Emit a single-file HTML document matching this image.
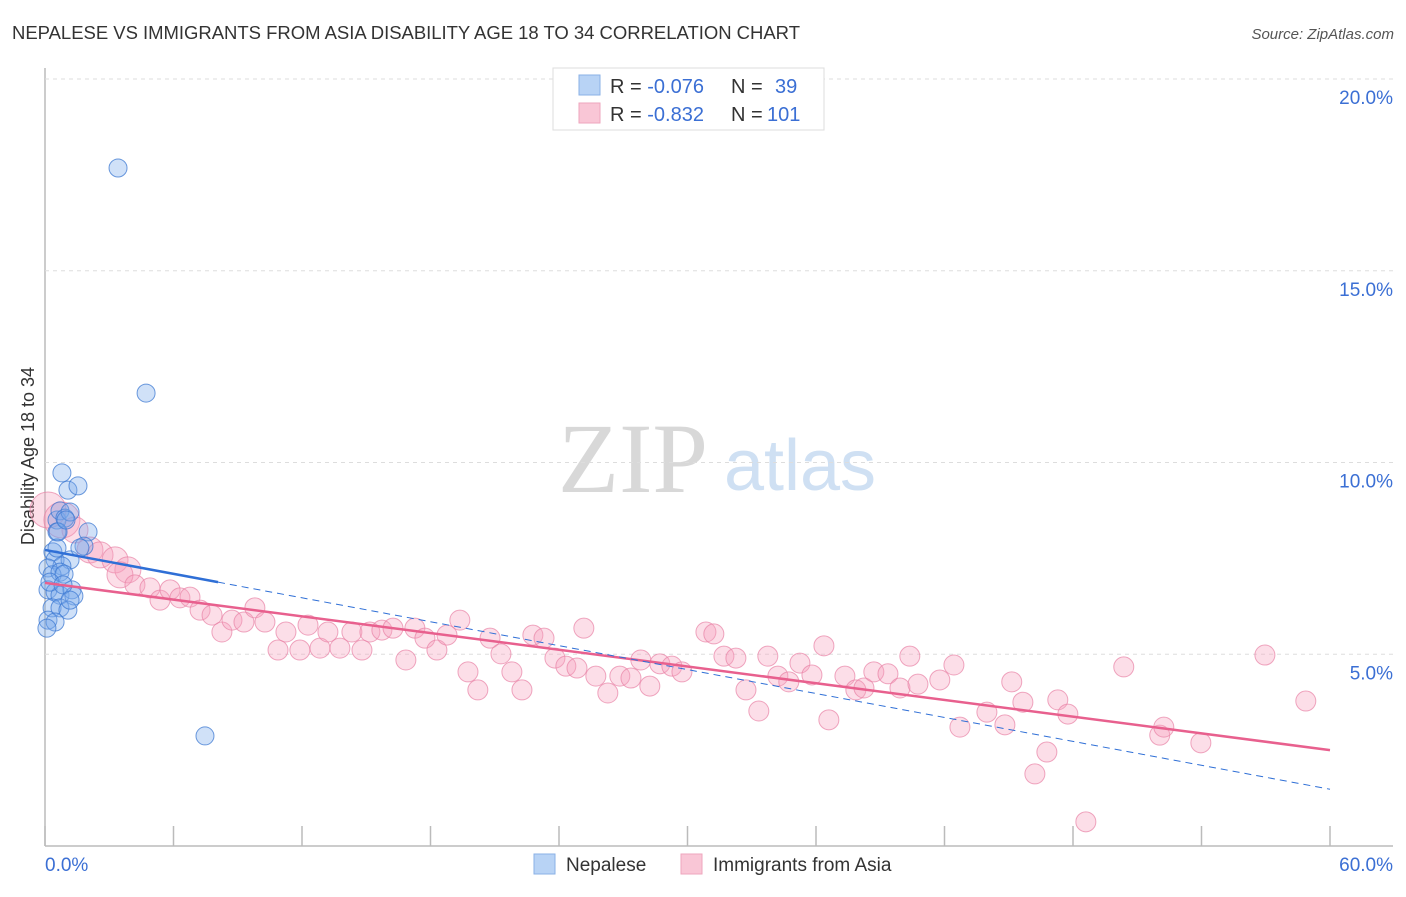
<!DOCTYPE html>
<html><head><meta charset="utf-8"><style>
body{margin:0;background:#fff;font-family:"Liberation Sans",sans-serif}
svg text{font-family:"Liberation Sans",sans-serif}
svg text.serif{font-family:"Liberation Serif",serif}
</style></head><body>
<svg id="c" width="1406" height="892">
<text x="12" y="39" font-size="18.5" fill="#333" textLength="788">NEPALESE VS IMMIGRANTS FROM ASIA DISABILITY AGE 18 TO 34 CORRELATION CHART</text>
<text x="1394" y="39" font-size="15" fill="#555" font-style="italic" text-anchor="end">Source: ZipAtlas.com</text>
<text class="serif" x="633" y="492" font-size="100" fill="#d8d8d8" text-anchor="middle">ZIP</text>
<text x="800" y="490" font-size="72" fill="#cfe0f3" text-anchor="middle">atlas</text>
<text transform="translate(34,456) rotate(-90)" font-size="18" fill="#333" text-anchor="middle">Disability Age 18 to 34</text>
<g id="grid"></g><g id="pts"></g><g id="lines"></g>
<g>
<rect x="553" y="68" width="271" height="62" fill="#fff" stroke="#ddd"/>
<rect x="579" y="75" width="21" height="20" fill="#b8d3f5" stroke="#8ab0e6"/>
<rect x="579" y="103" width="21" height="20" fill="#f9c6d6" stroke="#eea6bd"/>
<text x="610" y="93" font-size="20" fill="#333">R = <tspan fill="#3b6fd4">-0.076</tspan><tspan x="731">N = </tspan><tspan x="775" fill="#3b6fd4">39</tspan></text>
<text x="610" y="121" font-size="20" fill="#333">R = <tspan fill="#3b6fd4">-0.832</tspan><tspan x="731">N = </tspan><tspan x="767" fill="#3b6fd4">101</tspan></text>
</g>
<g>
<rect x="534" y="854" width="21" height="20" fill="#b8d3f5" stroke="#8ab0e6"/>
<text x="566" y="871" font-size="19" fill="#333">Nepalese</text>
<rect x="681" y="854" width="21" height="20" fill="#f9c6d6" stroke="#eea6bd"/>
<text x="713" y="871" font-size="19" fill="#333">Immigrants from Asia</text>
</g>
</svg>
<script>
const yTicks=[5,10,15,20];
const xTickLabels=["0.0%","60.0%"];
const blueX=[3.41,4.72,0.79,1.07,1.54,0.56,0.70,0.93,1.17,2.01,0.56,1.82,0.37,0.47,1.17,0.79,0.14,0.33,0.70,0.89,0.14,0.47,0.70,1.26,1.35,0.33,0.70,1.07,0.14,0.47,0.09,7.47,0.61,0.98,0.23,0.84,0.56,1.17,1.63];
const blueY=[17.68,11.81,9.73,9.28,9.39,8.50,8.74,8.55,8.71,8.19,8.19,7.82,7.67,7.46,7.46,7.30,7.25,7.07,7.14,7.09,6.68,6.62,6.54,6.68,6.52,6.21,6.21,6.15,5.89,5.84,5.68,2.87,8.19,8.50,6.88,6.81,7.77,6.41,7.77];
const pinkX=[0.14,0.79,1.40,2.10,2.57,3.27,3.87,3.50,4.20,4.90,5.37,5.84,6.30,6.77,7.24,7.80,8.26,8.73,9.29,9.80,10.27,10.88,11.25,11.90,12.28,12.84,13.21,13.77,14.33,14.80,15.17,15.73,16.25,16.85,17.27,17.74,18.30,18.77,19.37,19.75,20.21,20.78,21.29,21.80,22.27,22.78,23.30,23.81,24.32,24.84,25.16,25.72,26.28,26.84,27.36,27.82,28.24,28.71,29.27,29.74,30.86,31.23,31.70,32.26,32.73,33.33,33.75,34.22,34.73,35.25,35.81,36.37,36.60,37.35,37.86,38.24,38.70,39.36,39.92,40.38,40.76,41.78,42.44,42.72,43.98,44.82,45.14,45.66,46.22,46.78,47.29,47.76,48.60,50.37,52.05,52.24,53.97,56.96,58.87];
const pinkY=[8.76,8.50,8.24,7.72,7.59,7.46,7.20,7.07,6.81,6.73,6.41,6.68,6.47,6.49,6.15,6.02,5.58,5.89,5.84,6.21,5.84,5.11,5.58,5.11,5.76,5.16,5.58,5.16,5.58,5.11,5.58,5.63,5.68,4.85,5.68,5.42,5.11,5.50,5.89,4.54,4.07,5.42,5.01,4.54,4.07,5.50,5.42,4.90,4.69,4.64,5.68,4.43,3.99,4.43,4.38,4.85,4.17,4.75,4.69,4.54,5.58,5.53,4.95,4.90,4.07,3.52,4.95,4.43,4.28,4.77,4.46,5.22,3.29,4.43,4.07,4.12,4.54,4.49,4.12,4.95,4.22,4.33,4.72,3.10,3.49,3.16,4.28,3.75,1.88,2.45,3.81,3.44,0.63,4.67,2.89,3.10,2.69,4.98,3.78];
const NS='http://www.w3.org/2000/svg';
const X0=45,X1=1330,Y0=846,PY=38.35;
const sx=v=>X0+(v/60)*(X1-X0), sy=v=>Y0-v*PY;
function mk(t,a,p){const e=document.createElementNS(NS,t);for(const k in a)e.setAttribute(k,a[k]);p.appendChild(e);return e;}
const grid=document.getElementById('grid'),pts=document.getElementById('pts'),lines=document.getElementById('lines');
let ax=mk('line',{x1:X0,y1:68,x2:X0,y2:Y0,stroke:'#bbb','stroke-width':1.5},grid);


let bx=mk('line',{x1:X0,y1:Y0,x2:1393,y2:Y0,stroke:'#bbb','stroke-width':1.5},grid);


for(let i=0;i<=10;i++){const t=mk('line',{x1:sx(i*6),y1:826,x2:sx(i*6),y2:Y0,stroke:'#bbb','stroke-width':1.5},grid);

}
yTicks.forEach(v=>{const g=mk('line',{x1:X0,y1:sy(v),x2:1393,y2:sy(v),stroke:'#ddd','stroke-dasharray':'4,4'},grid);


const t=mk('text',{x:1393,y:sy(v)+25,'font-size':19,fill:'#3b6fd4','text-anchor':'end'},grid);t.textContent=v.toFixed(1)+'%';

});
xTickLabels.forEach((s,i)=>{const t=mk('text',{x:i?1393:45,y:871,'font-size':19,fill:'#3b6fd4','text-anchor':i?'end':'start'},grid);t.textContent=s;

});
pinkX.forEach((x,i)=>{const c=mk('circle',{cx:sx(x),cy:sy(pinkY[i]),r:i<2?18:(i<8?13:10),fill:'rgba(246,160,188,0.35)',stroke:'rgba(232,130,165,0.7)','stroke-width':1},pts);

});
blueX.forEach((x,i)=>{const c=mk('circle',{cx:sx(x),cy:sy(blueY[i]),r:9,fill:'rgba(120,170,235,0.35)',stroke:'rgba(60,120,210,0.75)','stroke-width':1},pts);

});
function fit(xs,ys){const n=xs.length;let mx=0,my=0;xs.forEach((x,i)=>{mx+=x;my+=ys[i]});mx/=n;my/=n;let sxy=0,sxx=0;xs.forEach((x,i)=>{sxy+=(x-mx)*(ys[i]-my);sxx+=(x-mx)**2});const b=sxy/sxx;return [my-b*mx,b];}
const pf=fit(pinkX,pinkY);
let pl=mk('line',{x1:sx(0),y1:sy(pf[0]),x2:sx(60),y2:sy(pf[0]+pf[1]*60),stroke:'#e8608e','stroke-width':2.5},lines);


const bf=[7.72,-0.104];
let bs=mk('line',{x1:sx(0),y1:sy(bf[0]),x2:sx(8.08),y2:sy(bf[0]+bf[1]*8.08),stroke:'#2f6fd6','stroke-width':2.5},lines);


let bd=mk('line',{x1:sx(8.08),y1:sy(bf[0]+bf[1]*8.08),x2:sx(60),y2:sy(bf[0]+bf[1]*60),stroke:'#2f6fd6','stroke-width':1,'stroke-dasharray':'7,5'},lines);


</script>
</body></html>
